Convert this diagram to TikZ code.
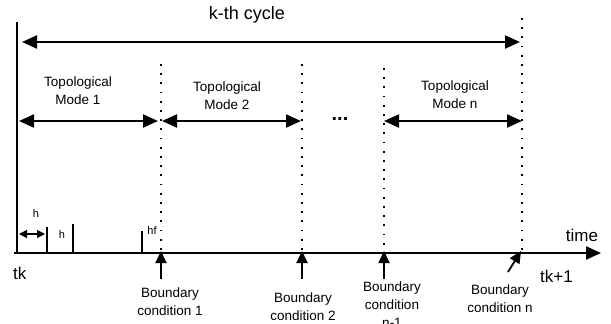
\documentclass[tikz,border=0pt]{standalone}
\usepackage{fontspec}
\setmainfont{Liberation Sans}
\usetikzlibrary{arrows.meta,positioning}

\begin{document}
\begin{tikzpicture}[
  x=1pt, y=-1pt, >={Triangle[length=15pt,width=13pt]},
  font=\fontsize{13.5}{18}\selectfont,
  axisline/.style={line width=2.2pt},
  span/.style={<->, line width=2.2pt},
  bound/.style={line width=1.7pt, dash pattern=on 1.7pt off 7.5pt},
  uparrow/.style={->, line width=1.8pt, >={Triangle[length=12pt,width=11pt]}},
  lbl/.style={align=center, inner sep=0pt}
]
\useasboundingbox (0,0) rectangle (611,324);

% axes
\coordinate (top) at (17,22);
\coordinate (tk) at (17,253);
\coordinate (tstart) at (14,253);
\coordinate (tend) at (601,253);
\draw[axisline] (top) -- (tk);
\draw[axisline,->] (tstart) -- (tend);
\node[font=\fontsize{17}{17}\selectfont] (timelbl) at (582,235) {time};
\node[font=\fontsize{17}{17}\selectfont, anchor=west, inner sep=0pt] (tklbl) at (13,273) {tk};

% boundaries
\coordinate (b1) at (161,253);  \coordinate (b1top) at (161,64);
\coordinate (b2) at (302,253);  \coordinate (b2top) at (302,64);
\coordinate (b3) at (384,253);  \coordinate (b3top) at (384,68);
\coordinate (bn) at (522,253);  \coordinate (bntop) at (522,18);
\draw[bound] (b1top) -- (b1);
\draw[bound] (b2top) -- (b2);
\draw[bound] (b3top) -- (b3);
\draw[bound] (bntop) -- (bn);

% k-th cycle
\coordinate (kl) at (22,42);
\coordinate (kr) at (520,42);
\draw[span] (kl) -- (kr);
\node[font=\fontsize{18}{18}\selectfont] (cyclelbl) at (247,15) {k-th cycle};

% modes
\coordinate (m1l) at (19,121);  \coordinate (m1r) at (158,121);
\coordinate (m2l) at (162,121); \coordinate (m2r) at (301,121);
\coordinate (mnl) at (384,121); \coordinate (mnr) at (522,121);
\draw[span] (m1l) -- (m1r);
\draw[span] (m2l) -- (m2r);
\draw[span] (mnl) -- (mnr);
\node[lbl] (mode1) at (78,91) {Topological\\Mode 1};
\node[lbl] (mode2) at (227,96) {Topological\\Mode 2};
\node[lbl] (moden) at (455,95) {Topological\\Mode n};
\node[font=\bfseries\fontsize{20}{20}\selectfont] (dots) at (340,119) {...};

% steps
\coordinate (s1) at (47,253); \coordinate (s1top) at (47,227);
\coordinate (s2) at (73,253); \coordinate (s2top) at (73,224);
\coordinate (s3) at (142,253); \coordinate (s3top) at (142,231);
\draw[line width=1.6pt] (s1top) -- (s1);
\draw[line width=1.6pt] (s2top) -- (s2);
\draw[line width=1.6pt] (s3top) -- (s3);
\coordinate (hl) at (19,234); \coordinate (hr) at (45,234);
\draw[<->, line width=1.2pt, >={Triangle[length=8pt,width=8pt]}] (hl) -- (hr);
\node[font=\fontsize{11}{11}\selectfont] (h1) at (36,214) {h};
\node[font=\fontsize{11}{11}\selectfont] (h2) at (62,235) {h};
\node[font=\fontsize{11}{11}\selectfont] (hf) at (152,231) {hf};

% boundary conditions
\coordinate (u1) at (161,279);
\coordinate (u2) at (302,279);
\coordinate (u3) at (384,279);
\coordinate (un) at (508,272);
\draw[uparrow] (u1) -- ([yshift=2pt]b1);
\draw[uparrow] (u2) -- ([yshift=2pt]b2);
\draw[uparrow] (u3) -- ([yshift=2pt]b3);
\draw[uparrow] (un) -- ([xshift=-1pt,yshift=2pt]bn);
\node[lbl] (bc1) at (170,302) {Boundary\\condition 1};
\node[lbl] (bc2) at (303,307) {Boundary\\condition 2};
\node[lbl] (bc3) at (392,305) {Boundary\\condition\\n-1};
\node[lbl] (bcn) at (500,299) {Boundary\\condition n};
\node[font=\fontsize{17}{17}\selectfont, anchor=west, inner sep=0pt] (tk1lbl) at (540,276) {tk+1};
\end{tikzpicture}
\end{document}
